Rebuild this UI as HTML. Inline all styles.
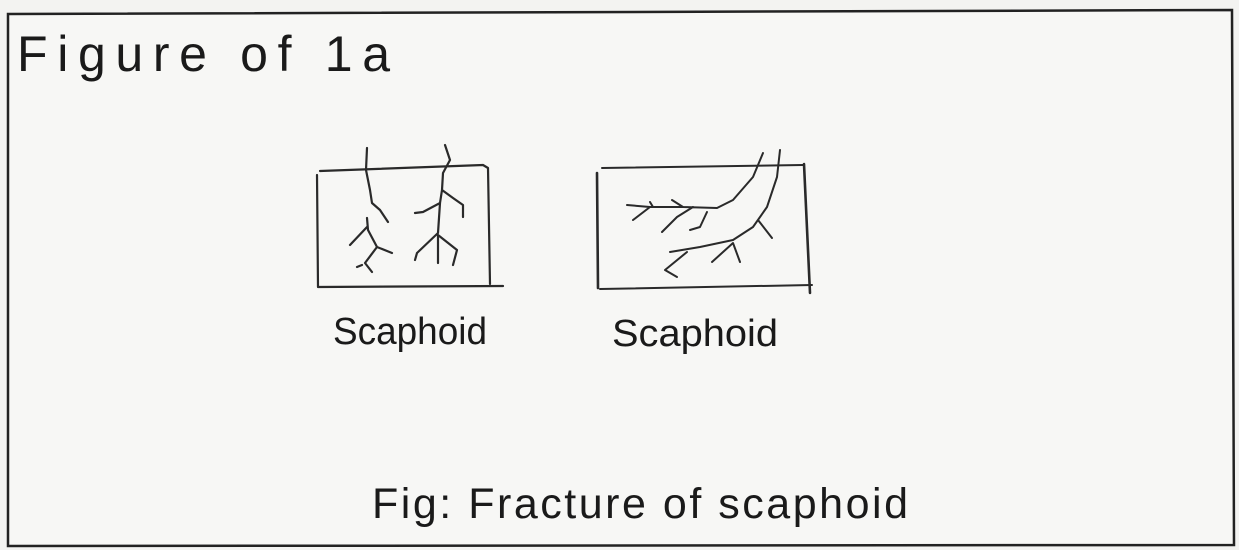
<!DOCTYPE html>
<html><head><meta charset="utf-8"><style>
html,body{margin:0;padding:0;background:#f3f3f1;}
svg{display:block;}
text{font-family:"Liberation Sans",sans-serif;fill:#1a1a1a;}
</style></head><body>
<svg width="1239" height="550" viewBox="0 0 1239 550">
<rect x="0" y="0" width="1239" height="550" fill="#f3f3f1"/>
<path d="M8 14 L1232 10 L1234 545 L8 546 Z" fill="#f7f7f5" stroke="#222" stroke-width="2.5"/>
<text x="17" y="71" font-size="50" textLength="373" lengthAdjust="spacing">Figure of 1a</text>
<g fill="none" stroke="#2a2a2a" stroke-width="2.2" stroke-linecap="round" stroke-linejoin="round">
<path d="M320 171 L483 165 L488 168 L490 284"/>
<path d="M317 175 L318 287 L503 286"/>
<path d="M367 148 L366 170 L370 190 L372 203 L380 210 L388 222 M367 218 L368 230 L377 247 L392 253 M367 227 L350 245 M377 247 L365 263 L372 272 M362 265 L357 267"/>
<path d="M445 145 L450 160 L443 173 L442 190 L453 198 L463 205 L463 217 M442 190 L440 203 L438 233 L417 253 M438 235 L438 263 M438 235 L457 250 L453 265 M440 203 L423 212 L415 213 M417 253 L415 260"/>
</g>
<g fill="none" stroke="#2a2a2a" stroke-width="2" stroke-linecap="round" stroke-linejoin="round">
<path d="M602 168 L803 165"/>
<path d="M597 173 L598 288" stroke-width="2.6"/>
<path d="M804 164 L810 293" stroke-width="2.6"/>
<path d="M600 289 L812 285"/>
<path d="M763 153 L753 177 L733 200 L717 208 L683 207 L650 207 L627 205 M650 207 L633 220 M653 207 L650 202 M683 207 L672 200 M693 207 L677 217 L662 232 M707 212 L700 227 L690 230"/>
<path d="M780 150 L777 177 L767 207 L753 227 L733 240 L700 247 L670 252 M758 220 L772 238 M687 252 L665 270 L677 277 M712 262 L733 243 L740 262"/>
</g>
<text x="333" y="344" font-size="38" textLength="154" lengthAdjust="spacingAndGlyphs">Scaphoid</text>
<text x="612" y="346" font-size="38" textLength="166" lengthAdjust="spacingAndGlyphs">Scaphoid</text>
<text x="372" y="518" font-size="43" textLength="536" lengthAdjust="spacing">Fig: Fracture of scaphoid</text>
</svg>
</body></html>
